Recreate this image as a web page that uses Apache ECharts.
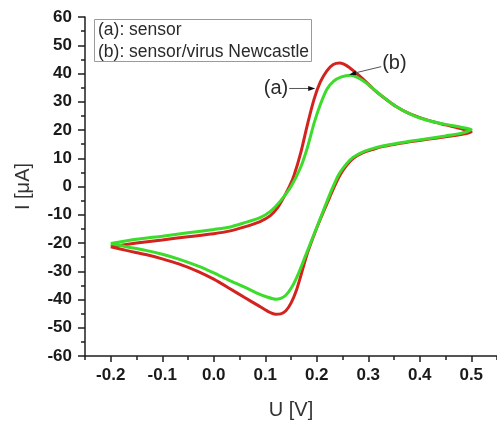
<!DOCTYPE html>
<html>
<head>
<meta charset="utf-8">
<script src="https://cdn.jsdelivr.net/npm/echarts@6/dist/echarts.min.js"></script>
<style>
  html, body { margin: 0; padding: 0; background: #fff; }
  #chart { width: 497px; height: 425px; }
</style>
</head>
<body>
<div id="chart"></div>
<script>
// Cyclic voltammograms: bare sensor (a) and sensor after Newcastle virus binding (b)

// (a) sensor — forward scan (-0.2 V -> 0.5 V)
const sensorFwdU = [-0.2, -0.15, -0.1, -0.05, 0, 0.03, 0.06, 0.09, 0.11, 0.124, 0.137, 0.147, 0.156, 0.169, 0.182, 0.195, 0.207, 0.22, 0.232, 0.245, 0.258, 0.271, 0.29, 0.31, 0.33, 0.354, 0.38, 0.418, 0.45, 0.48, 0.5];
const sensorFwdI = [-21.3, -20.0, -18.9, -17.8, -16.7, -15.8, -14.3, -12.4, -10.3, -7.5, -3.5, 0, 4, 12, 22, 31, 37, 41, 43.2, 43.7, 42.8, 41.0, 38, 34.5, 31.5, 28.3, 25.8, 23.3, 21.8, 20.5, 19.3];
// (a) sensor — reverse scan (0.5 V -> -0.2 V)
const sensorRevU = [0.5, 0.48, 0.45, 0.418, 0.38, 0.354, 0.33, 0.31, 0.29, 0.271, 0.258, 0.245, 0.233, 0.22, 0.207, 0.194, 0.182, 0.17, 0.16, 0.15, 0.14, 0.13, 0.12, 0.105, 0.085, 0.06, 0.03, 0, -0.03, -0.068, -0.1, -0.132, -0.17, -0.2];
const sensorRevI = [19.3, 18.4, 17.6, 16.8, 15.8, 15.0, 14.2, 13.2, 12.0, 10, 7.5, 4, -0.5, -6, -11.5, -17.5, -23.5, -31, -37, -41.3, -44, -45.1, -45.2, -44.2, -42.0, -39.3, -36.0, -32.8, -30.1, -27.4, -25.6, -24.1, -22.6, -21.3];

// (b) sensor/virus Newcastle — forward scan
const virusFwdU = [-0.2, -0.15, -0.1, -0.05, 0, 0.03, 0.06, 0.09, 0.11, 0.13, 0.15, 0.169, 0.182, 0.195, 0.207, 0.22, 0.233, 0.248, 0.265, 0.28, 0.297, 0.32, 0.35, 0.386, 0.42, 0.45, 0.48, 0.5];
const virusFwdI = [-20.2, -18.7, -17.6, -16.4, -15.2, -14.4, -12.8, -11, -8.8, -5, 0, 6.9, 13.9, 22.5, 29, 34.5, 37.3, 38.8, 39.4, 38.5, 36.5, 33, 28.8, 25.3, 23.2, 22, 21, 20.2];
// (b) sensor/virus Newcastle — reverse scan
const virusRevU = [0.5, 0.48, 0.45, 0.418, 0.38, 0.354, 0.33, 0.31, 0.29, 0.271, 0.258, 0.242, 0.226, 0.214, 0.2, 0.188, 0.176, 0.164, 0.152, 0.14, 0.13, 0.121, 0.105, 0.085, 0.06, 0.03, 0, -0.03, -0.068, -0.1, -0.132, -0.17, -0.2];
const virusRevI = [20.2, 18.8, 17.9, 17, 16, 15.2, 14.4, 13.5, 12.3, 10.4, 8.1, 4, -2.5, -8, -14.5, -20, -25.5, -31, -35.5, -38.5, -39.6, -39.9, -39.2, -37.8, -35.6, -33.2, -30.6, -28.2, -25.7, -24.0, -22.6, -21.3, -20.2];

// Axis ticks
const xMajorTicks = [-0.2, -0.1, 0.0, 0.1, 0.2, 0.3, 0.4, 0.5];
const xMinorTicks = [-0.25, -0.15, -0.05, 0.05, 0.15, 0.25, 0.35, 0.45, 0.55];
const yTickLabels = [-60, -50, -40, -30, -20, -10, 0, 10, 20, 30, 40, 50, 60];

const legendLines = ['(a): sensor', '(b): sensor/virus Newcastle'];

function zip(us, is) {
  return us.map((u, k) => [u, is[k]]);
}
const sensorLoop = zip(sensorFwdU, sensorFwdI).concat(zip(sensorRevU, sensorRevI).slice(1));
const virusLoop = zip(virusFwdU, virusFwdI).concat(zip(virusRevU, virusRevI).slice(1));

const FONT = '"Liberation Sans", Arial, sans-serif';
const AXIS_COLOR = '#1e1e1e';

const chart = echarts.init(document.getElementById('chart'), null, { renderer: 'canvas' });

const xCommon = {
  type: 'value',
  min: -0.25,
  max: 0.55,
  splitLine: { show: false }
};

chart.setOption({
  animation: false,
  backgroundColor: '#fff',
  grid: { left: 85, right: -6, top: 17, bottom: 66, containLabel: false },
  xAxis: [
    Object.assign({}, xCommon, {
      position: 'bottom',
      name: 'U [V]',
      nameLocation: 'middle',
      nameGap: 44,
      nameTextStyle: { fontFamily: FONT, fontSize: 20, color: '#333' },
      axisLine: { show: true, onZero: false, lineStyle: { color: AXIS_COLOR, width: 1.5 } },
      axisTick: { show: true, inside: false, length: 6, customValues: xMajorTicks, lineStyle: { color: AXIS_COLOR, width: 1.5 } },
      axisLabel: {
        show: true, margin: 11, customValues: xMajorTicks,
        fontFamily: FONT, fontSize: 17, fontWeight: 'bold', color: '#1a1a1a',
        formatter: v => v.toFixed(1)
      }
    }),
    Object.assign({}, xCommon, {
      position: 'bottom',
      axisLine: { show: false, onZero: false },
      axisTick: { show: true, inside: false, length: 4, customValues: xMinorTicks, lineStyle: { color: AXIS_COLOR, width: 1.5 } },
      axisLabel: { show: false }
    })
  ],
  yAxis: {
    type: 'value',
    min: yTickLabels[0],
    max: yTickLabels[yTickLabels.length - 1],
    interval: 10,
    name: 'I [μA]',
    nameLocation: 'middle',
    nameGap: 52,
    nameRotate: 90,
    nameTextStyle: { fontFamily: FONT, fontSize: 20, color: '#333' },
    splitLine: { show: false },
    axisLine: { show: true, onZero: false, lineStyle: { color: AXIS_COLOR, width: 1.5 } },
    axisTick: { show: true, inside: false, length: 7, lineStyle: { color: AXIS_COLOR, width: 1.5 } },
    minorTick: { show: true, splitNumber: 2, length: 4, lineStyle: { color: AXIS_COLOR, width: 1.5 } },
    axisLabel: {
      margin: 13, fontFamily: FONT, fontSize: 17, fontWeight: 'bold', color: '#1a1a1a'
    }
  },
  series: [
    {
      name: legendLines[0],
      type: 'line',
      xAxisIndex: 0,
      data: sensorLoop,
      showSymbol: false,
      symbol: 'none',
      smooth: 0.25,
      lineStyle: { color: '#d3231f', width: 3 },
      z: 2
    },
    {
      name: legendLines[1],
      type: 'line',
      xAxisIndex: 0,
      data: virusLoop,
      showSymbol: false,
      symbol: 'none',
      smooth: 0.25,
      lineStyle: { color: '#3cdc2c', width: 3 },
      z: 3
    }
  ]
});

// Legend box and curve call-outs
const tipA = chart.convertToPixel({ gridIndex: 0 }, [0.197, 34.7]);
const tipB = chart.convertToPixel({ gridIndex: 0 }, [0.263, 39.6]);

function arrowHead(tip, from, size) {
  const dx = tip[0] - from[0], dy = tip[1] - from[1];
  const len = Math.sqrt(dx * dx + dy * dy);
  const ux = dx / len, uy = dy / len;
  const bx = tip[0] - ux * size, by = tip[1] - uy * size;
  const w = size * 0.35;
  return [[tip[0], tip[1]], [bx - uy * w, by + ux * w], [bx + uy * w, by - ux * w]];
}

const fromA = [tipA[0] - 26, tipA[1]];
const fromB = [tipB[0] + 32, tipB[1] - 8];

chart.setOption({
  graphic: [
    {
      type: 'rect',
      shape: { x: 94.5, y: 19.5, width: 217, height: 42 },
      style: { fill: '#fff', stroke: '#9a9a9a', lineWidth: 1 },
      z: 10
    },
    {
      type: 'text', x: 98, y: 30,
      style: { text: legendLines[0], fontFamily: FONT, fontSize: 17.5, fill: '#2a2a2a', verticalAlign: 'middle' },
      z: 11
    },
    {
      type: 'text', x: 98, y: 52,
      style: { text: legendLines[1], fontFamily: FONT, fontSize: 17.5, fill: '#2a2a2a', verticalAlign: 'middle' },
      z: 11
    },
    {
      type: 'line',
      shape: { x1: fromA[0], y1: fromA[1], x2: tipA[0] - 3, y2: tipA[1] },
      style: { stroke: '#555', lineWidth: 1 },
      z: 10
    },
    {
      type: 'polygon',
      shape: { points: arrowHead(tipA, fromA, 7) },
      style: { fill: '#111' },
      z: 10
    },
    {
      type: 'text', x: fromA[0] - 1, y: fromA[1],
      style: { text: '(a)', fontFamily: FONT, fontSize: 20, fill: '#2a2a2a', align: 'right', verticalAlign: 'middle' },
      z: 10
    },
    {
      type: 'line',
      shape: { x1: fromB[0], y1: fromB[1], x2: tipB[0] + 3, y2: tipB[1] - 1 },
      style: { stroke: '#555', lineWidth: 1 },
      z: 10
    },
    {
      type: 'polygon',
      shape: { points: arrowHead(tipB, fromB, 7) },
      style: { fill: '#111' },
      z: 10
    },
    {
      type: 'text', x: fromB[0] + 1, y: fromB[1] - 3,
      style: { text: '(b)', fontFamily: FONT, fontSize: 20, fill: '#2a2a2a', align: 'left', verticalAlign: 'middle' },
      z: 10
    }
  ]
});
</script>
</body>
</html>
